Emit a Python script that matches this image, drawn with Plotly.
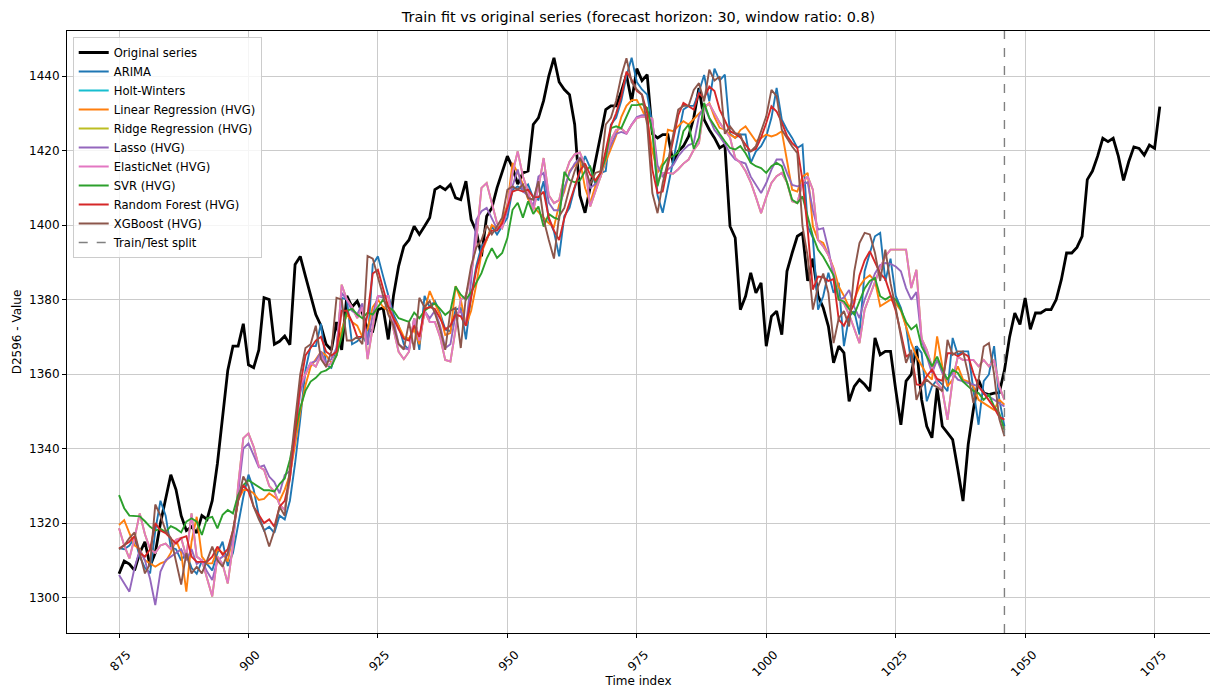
import plotly.graph_objects as go

# ---------------- data ----------------
orig_start, orig_end = 875, 1076
fit_start, fit_end = 875, 1046
split_index = 1046

original = [
    1306.4, 1309.8, 1309.0, 1307.3, 1312.0, 1315.0, 1308.5, 1312.0, 1320.0, 1327.0,
    1333.0, 1329.0, 1322.0, 1318.0, 1319.0, 1317.4, 1322.0, 1321.0, 1326.0, 1336.0,
    1348.0, 1361.0, 1367.5, 1367.5, 1373.5, 1362.5, 1361.7, 1366.5, 1380.5, 1380.0,
    1368.0, 1368.8, 1370.2, 1367.9, 1389.4, 1391.6, 1386.3, 1381.0, 1376.0, 1373.0,
    1368.0, 1366.5, 1374.0, 1366.5, 1381.0, 1378.0, 1379.6, 1376.4, 1372.0, 1371.5,
    1377.3, 1377.8, 1369.3, 1381.0, 1389.0, 1394.3, 1396.0, 1399.7, 1397.5, 1399.7,
    1402.0, 1409.5, 1410.4, 1409.5, 1410.9, 1407.3, 1406.8, 1411.8, 1401.5, 1398.3,
    1391.6, 1402.4, 1404.6, 1410.0, 1414.5, 1418.5, 1415.4, 1411.0, 1414.0, 1414.5,
    1427.0, 1428.8, 1433.4, 1440.0, 1444.9, 1438.4, 1436.4, 1435.0, 1427.0, 1408.0,
    1403.3, 1410.5, 1417.0, 1424.0, 1431.0, 1432.0, 1432.0, 1435.8, 1440.3, 1433.2,
    1442.0, 1438.8, 1440.4, 1424.5, 1423.4, 1424.3, 1424.3, 1416.7, 1419.8, 1421.2,
    1423.8, 1428.8, 1436.8, 1428.3, 1425.6, 1423.4, 1420.7, 1421.6, 1399.7, 1396.6,
    1377.3, 1380.9, 1387.2, 1381.8, 1384.5, 1367.5, 1375.5, 1376.9, 1370.6, 1387.6,
    1392.5, 1397.0, 1397.9, 1385.0, 1391.0, 1381.0, 1377.8, 1372.8, 1363.0, 1367.5,
    1365.7, 1352.7, 1356.7, 1358.5, 1357.2, 1355.4, 1369.7, 1365.2, 1366.1, 1366.1,
    1355.8, 1346.4, 1358.1, 1359.9, 1367.5, 1353.2, 1346.0, 1342.9, 1356.3, 1346.0,
    1344.2, 1342.4, 1334.4, 1325.9, 1341.1, 1350.5, 1358.5, 1354.9, 1354.5, 1354.9,
    1355.0, 1361.0, 1370.0, 1376.4, 1373.3, 1380.4, 1372.0, 1376.4, 1376.4, 1377.3,
    1377.3, 1380.0, 1385.4, 1392.5, 1392.5, 1394.0, 1397.0, 1412.2, 1414.5, 1418.5,
    1423.3, 1422.4, 1423.3, 1418.5, 1412.0, 1417.0, 1421.0, 1420.6, 1418.8, 1421.5,
    1420.6, 1431.8,
]

arima = [
    1313.3, 1313.0, 1314.0, 1316.0, 1311.0, 1308.0, 1306.5, 1318.0, 1326.0, 1322.0,
    1313.5, 1313.0, 1310.0, 1312.0, 1308.0, 1306.4, 1309.8, 1309.0, 1307.3, 1312.0,
    1315.0, 1308.5, 1312.0, 1320.0, 1327.0, 1333.0, 1329.0, 1322.0, 1318.0, 1319.0,
    1317.4, 1322.0, 1321.0, 1326.0, 1336.0, 1348.0, 1361.0, 1367.5, 1367.5, 1373.5,
    1362.5, 1361.7, 1366.5, 1380.5, 1380.0, 1368.0, 1368.8, 1370.2, 1367.9, 1389.4,
    1391.6, 1386.3, 1381.0, 1376.0, 1373.0, 1368.0, 1366.5, 1374.0, 1366.5, 1381.0,
    1378.0, 1379.6, 1376.4, 1372.0, 1371.5, 1377.3, 1377.8, 1369.3, 1381.0, 1389.0,
    1394.3, 1396.0, 1399.7, 1397.5, 1399.7, 1402.0, 1409.5, 1410.4, 1409.5, 1410.9,
    1407.3, 1406.8, 1411.8, 1401.5, 1398.3, 1391.6, 1402.4, 1404.6, 1410.0, 1414.5,
    1418.5, 1415.4, 1411.0, 1414.0, 1414.5, 1427.0, 1428.8, 1433.4, 1440.0, 1444.9,
    1438.4, 1436.4, 1435.0, 1427.0, 1408.0, 1403.3, 1410.5, 1417.0, 1424.0, 1431.0,
    1432.0, 1432.0, 1435.8, 1440.3, 1433.2, 1442.0, 1438.8, 1440.4, 1424.5, 1423.4,
    1424.3, 1424.3, 1416.7, 1419.8, 1421.2, 1423.8, 1428.8, 1436.8, 1428.3, 1425.6,
    1423.4, 1420.7, 1421.6, 1399.7, 1396.6, 1377.3, 1380.9, 1387.2, 1381.8, 1384.5,
    1367.5, 1375.5, 1376.9, 1370.6, 1387.6, 1392.5, 1397.0, 1397.9, 1385.0, 1391.0,
    1381.0, 1377.8, 1372.8, 1363.0, 1367.5, 1365.7, 1352.7, 1356.7, 1358.5, 1357.2,
    1355.4, 1369.7, 1365.2, 1366.1, 1366.1, 1355.8, 1346.4, 1358.1, 1359.9, 1367.5,
    1353.2, 1346.0,
]

linear_reg = [
    1319.5, 1320.8, 1317.3, 1314.0, 1313.0, 1310.0, 1309.2, 1308.3, 1309.2, 1309.7,
    1312.0, 1315.5, 1312.0, 1301.6, 1315.0, 1321.7, 1311.0, 1309.2, 1309.2, 1313.0,
    1312.0, 1309.7, 1317.0, 1326.2, 1328.9, 1328.9, 1328.0, 1326.2, 1326.5, 1328.0,
    1327.0, 1326.0, 1329.0, 1333.0, 1341.0, 1350.0, 1357.0, 1362.0, 1364.0, 1366.0,
    1365.0, 1363.0, 1365.0, 1372.0, 1376.0, 1374.0, 1373.0, 1370.0, 1372.0, 1378.0,
    1380.0, 1378.0, 1377.0, 1375.0, 1373.0, 1370.0, 1369.5, 1372.0, 1368.0, 1377.0,
    1382.3, 1379.0, 1376.0, 1370.5, 1371.0, 1383.6, 1380.0, 1373.0, 1377.0, 1384.0,
    1392.5, 1396.0, 1400.0, 1399.0, 1401.0, 1405.5, 1416.7, 1414.0, 1411.0, 1407.0,
    1405.0, 1403.5, 1402.0, 1400.5, 1399.5, 1405.5, 1409.0, 1414.5, 1416.0, 1417.5,
    1410.0, 1406.0, 1410.5, 1413.0, 1417.0, 1420.5, 1424.0, 1429.0, 1432.0, 1433.5,
    1433.6, 1431.0, 1428.0, 1420.0, 1414.0, 1416.7, 1425.6, 1425.2, 1426.5, 1427.9,
    1427.0, 1428.5, 1430.0, 1431.5, 1432.8, 1429.0, 1426.1, 1425.6, 1424.3, 1423.4,
    1425.5, 1426.5, 1424.5, 1422.5, 1423.4, 1424.3, 1423.8, 1424.3, 1425.2, 1417.1,
    1409.5, 1409.0, 1413.0, 1414.0, 1399.7, 1396.0, 1395.2, 1392.0, 1388.5, 1383.5,
    1381.0, 1378.0, 1380.0, 1383.5, 1385.5, 1386.5, 1385.0, 1378.2, 1379.0, 1380.0,
    1379.0, 1377.0, 1372.8, 1368.3, 1364.7, 1362.1, 1359.9, 1358.5, 1370.1, 1362.1,
    1356.7, 1358.5, 1362.1, 1358.5, 1358.0, 1356.7, 1353.1, 1352.2, 1351.3, 1350.4,
    1353.1, 1351.8,
]

lasso = [
    1306.1, 1304.0, 1301.6, 1308.0, 1312.8, 1310.0, 1305.0, 1298.0, 1307.0, 1310.0,
    1311.0, 1312.0, 1313.0, 1310.0, 1313.0, 1309.0, 1310.0, 1307.0, 1304.7, 1310.0,
    1311.0, 1311.5, 1316.0, 1328.0, 1340.0, 1341.4, 1338.0, 1335.0, 1335.5, 1332.5,
    1331.0, 1328.0, 1332.9, 1334.0, 1343.0, 1355.0, 1360.0, 1363.0, 1363.5, 1366.0,
    1363.0, 1364.0, 1367.0, 1381.8, 1380.0, 1377.0, 1376.0, 1379.0, 1368.0, 1376.0,
    1381.0, 1380.5, 1381.0, 1374.0, 1368.0, 1367.0, 1366.6, 1375.0, 1369.0, 1377.0,
    1375.0, 1377.0, 1373.0, 1367.0, 1368.0, 1376.0, 1377.0, 1373.0, 1385.0, 1401.4,
    1403.7, 1404.6, 1402.0, 1399.0, 1399.5, 1404.0, 1410.5, 1414.9, 1409.0, 1408.0,
    1405.0, 1413.0, 1414.0, 1406.0, 1404.0, 1404.0, 1410.0, 1414.0, 1416.5, 1418.0,
    1416.0, 1410.0, 1411.0, 1414.0, 1418.5, 1421.5, 1424.5, 1425.0, 1424.5, 1427.0,
    1429.0, 1429.5, 1429.5, 1428.0, 1416.0, 1413.1, 1414.9, 1416.0, 1418.5, 1420.2,
    1421.5, 1422.0, 1429.2, 1431.9, 1428.8, 1425.5, 1423.8, 1421.8, 1419.3, 1417.6,
    1417.0, 1416.5, 1413.0, 1410.8, 1408.6, 1411.3, 1414.9, 1417.6, 1417.6, 1414.0,
    1410.8, 1410.4, 1410.8, 1411.5, 1404.0, 1398.8, 1399.2, 1393.5, 1386.2, 1380.0,
    1380.5, 1382.6, 1378.0, 1375.0, 1380.0, 1383.5, 1387.0, 1389.3, 1389.8, 1389.6,
    1388.9, 1387.6, 1383.1, 1380.0, 1382.0, 1369.2, 1364.7, 1360.3, 1363.8, 1360.3,
    1358.5, 1360.3, 1358.5, 1358.0, 1357.6, 1357.2, 1356.7, 1354.9, 1354.0, 1353.1,
    1352.2, 1351.3,
]

elastic_net = [
    1318.6, 1314.0, 1310.5, 1316.0, 1322.6, 1317.0, 1313.0, 1312.0, 1314.0, 1314.5,
    1313.0, 1315.5, 1316.0, 1311.0, 1322.6, 1311.0, 1310.0, 1305.0, 1300.3, 1311.0,
    1309.0, 1303.8, 1314.0, 1330.0, 1342.8, 1344.1, 1340.5, 1335.2, 1334.3, 1330.0,
    1328.5, 1325.0, 1323.5, 1332.0, 1345.0, 1357.0, 1360.0, 1363.0, 1362.0, 1365.0,
    1362.0, 1363.0, 1365.0, 1384.0, 1380.0, 1378.0, 1375.0, 1378.0, 1364.0, 1373.0,
    1381.0, 1381.0, 1381.0, 1372.0, 1366.0, 1364.0, 1366.0, 1375.0, 1369.0, 1377.0,
    1374.0, 1374.0, 1370.0, 1363.8, 1363.4, 1372.0, 1380.0, 1381.0, 1387.0, 1396.0,
    1410.0, 1411.3, 1406.0, 1400.5, 1399.2, 1405.0, 1414.0, 1419.8, 1413.1, 1409.0,
    1404.0, 1410.0, 1418.0, 1408.0, 1405.9, 1406.7, 1413.0, 1417.0, 1419.0, 1419.5,
    1416.0, 1405.0, 1409.0, 1413.0, 1418.0, 1422.9, 1425.5, 1426.0, 1424.6, 1426.9,
    1428.7, 1429.1, 1429.1, 1428.5, 1411.7, 1414.0, 1414.0, 1413.8, 1415.0, 1416.5,
    1417.6, 1420.2, 1422.0, 1431.9, 1432.5, 1430.0, 1427.5, 1425.5, 1423.5, 1418.0,
    1416.7, 1414.5, 1411.5, 1407.5, 1403.2, 1407.5, 1411.3, 1413.1, 1414.0, 1411.5,
    1406.4, 1405.9, 1411.3, 1413.1, 1409.5, 1396.0, 1394.3, 1392.0, 1388.0, 1380.0,
    1379.0, 1376.0, 1372.0, 1368.3, 1377.3, 1381.0, 1384.5, 1388.5, 1391.6, 1393.4,
    1393.4, 1393.4, 1393.4, 1383.1, 1388.0, 1369.5, 1366.5, 1362.0, 1357.6, 1355.8,
    1347.7, 1358.5, 1364.7, 1363.8, 1363.8, 1363.8, 1362.1, 1363.8, 1362.1, 1363.8,
    1356.7, 1353.1,
]

# Ridge is drawn exactly beneath ElasticNet in the reference
ridge_reg = elastic_net

svr = [
    1327.5, 1324.0, 1322.0, 1322.0, 1321.8, 1320.5, 1319.0, 1318.0, 1318.5, 1317.6,
    1319.2, 1318.5, 1317.5, 1320.4, 1321.3, 1320.4, 1316.8, 1321.3, 1321.7, 1318.6,
    1322.2, 1323.5, 1322.6, 1327.5, 1330.2, 1331.5, 1330.6, 1329.7, 1328.8, 1328.8,
    1328.5, 1330.5, 1332.0, 1337.0, 1344.0, 1351.0, 1355.5, 1358.0, 1359.0, 1360.5,
    1361.0, 1362.0, 1365.0, 1370.0, 1377.0, 1377.5, 1376.0, 1375.0, 1376.5, 1376.0,
    1378.0, 1380.0, 1378.0, 1377.0, 1375.0, 1374.6, 1374.0, 1376.5, 1375.0, 1377.0,
    1378.0, 1379.0, 1377.5, 1375.9, 1377.0, 1383.5, 1381.3, 1380.0, 1382.0, 1384.4,
    1387.1, 1391.0, 1393.8, 1391.2, 1392.5, 1396.5, 1404.1, 1406.0, 1402.0, 1406.4,
    1403.0, 1405.0, 1399.6, 1403.0, 1402.0, 1401.5, 1414.3, 1412.1, 1411.5, 1412.0,
    1414.5, 1415.7, 1411.5, 1414.0, 1418.0, 1426.0, 1426.5, 1426.0, 1429.0, 1432.2,
    1432.2, 1432.5, 1431.4, 1425.0, 1410.4, 1416.0, 1418.0, 1418.5, 1419.5, 1425.2,
    1427.0, 1420.5, 1423.5, 1432.8, 1428.8, 1426.5, 1424.5, 1422.5, 1420.7, 1420.3,
    1421.2, 1419.3, 1416.7, 1415.8, 1415.3, 1414.0, 1415.8, 1416.7, 1415.8, 1411.5,
    1406.8, 1405.9, 1407.7, 1402.3, 1397.0, 1393.4, 1391.5, 1389.0, 1386.5, 1380.0,
    1379.5, 1377.5, 1376.0, 1379.5, 1383.0, 1385.0, 1385.8, 1380.9, 1380.0, 1380.9,
    1380.0, 1377.3, 1374.0, 1372.0, 1373.2, 1367.4, 1364.7, 1362.1, 1364.7, 1361.2,
    1358.5, 1361.2, 1360.3, 1358.0, 1356.7, 1355.5, 1354.9, 1353.1, 1354.5, 1351.3,
    1349.5, 1345.0,
]

random_forest = [
    1313.2, 1314.0, 1315.0, 1316.5, 1312.0, 1311.0, 1313.0, 1320.0, 1318.0, 1317.3,
    1316.0, 1314.5, 1316.0, 1316.5, 1311.0, 1309.6, 1309.6, 1309.6, 1311.0, 1313.7,
    1311.5, 1313.0, 1318.0, 1326.0, 1330.2, 1328.5, 1324.4, 1322.0, 1320.0, 1321.0,
    1319.0, 1324.4, 1326.0, 1332.0, 1345.0, 1357.0, 1365.0, 1367.0, 1369.0, 1370.0,
    1366.0, 1365.0, 1366.0, 1377.0, 1377.0, 1374.0, 1370.0, 1370.0, 1376.0, 1387.0,
    1388.0, 1383.0, 1378.0, 1375.0, 1372.0, 1369.5, 1369.0, 1373.0, 1370.0, 1377.5,
    1378.0, 1377.5, 1375.0, 1372.0, 1373.0, 1376.0, 1375.5, 1373.0, 1381.0, 1388.0,
    1393.0, 1396.5, 1398.5, 1398.5, 1400.5, 1404.5, 1409.0, 1409.5, 1409.0, 1409.5,
    1407.5, 1407.5, 1409.0, 1402.0, 1398.5, 1396.0, 1401.8, 1406.0, 1410.5, 1414.5,
    1416.5, 1413.5, 1412.0, 1414.0, 1420.0, 1426.5, 1430.0, 1434.5, 1441.2, 1439.0,
    1436.0, 1435.0, 1430.0, 1414.9, 1408.6, 1409.0, 1416.0, 1423.0, 1429.5, 1432.8,
    1432.0, 1431.0, 1435.4, 1434.0, 1437.2, 1436.0, 1431.0, 1428.0, 1425.2, 1424.5,
    1423.5, 1421.6, 1419.8, 1420.5, 1423.5, 1427.4, 1431.9, 1430.5, 1427.5, 1424.0,
    1422.0, 1420.7, 1412.0, 1398.8, 1382.7, 1386.2, 1386.0, 1385.0, 1385.5, 1374.6,
    1373.0, 1376.0, 1379.0, 1386.5, 1390.5, 1393.0, 1390.0, 1387.0, 1385.5, 1381.0,
    1377.0, 1371.0, 1364.7, 1365.6, 1357.2, 1357.0, 1359.5, 1361.2, 1358.7, 1358.2,
    1365.6, 1365.6, 1364.8, 1365.6, 1364.8, 1360.3, 1356.7, 1354.9, 1353.1, 1351.0,
    1348.5, 1347.8,
]

xgboost = [
    1313.0, 1314.0, 1316.0, 1317.5, 1312.0, 1306.5, 1309.0, 1325.0, 1322.0, 1318.0,
    1316.0, 1310.0, 1303.5, 1312.0, 1306.5, 1308.3, 1306.5, 1310.0, 1313.7, 1310.0,
    1308.3, 1312.0, 1318.0, 1326.0, 1332.5, 1330.0, 1324.4, 1321.0, 1318.2, 1313.7,
    1318.0, 1324.4, 1322.0, 1335.0, 1348.0, 1360.0, 1367.0, 1368.0, 1373.0, 1364.0,
    1362.0, 1366.0, 1380.5, 1380.0, 1369.0, 1369.0, 1370.0, 1368.0, 1391.7, 1391.0,
    1386.0, 1381.0, 1376.0, 1373.0, 1368.0, 1366.6, 1374.0, 1366.5, 1380.5, 1378.0,
    1379.6, 1376.4, 1372.0, 1366.5, 1377.0, 1377.8, 1367.0, 1381.0, 1389.0, 1394.0,
    1396.0, 1400.0, 1397.5, 1399.7, 1402.0, 1409.5, 1410.4, 1409.5, 1410.9, 1407.3,
    1406.8, 1411.8, 1401.5, 1396.0, 1391.0, 1402.4, 1404.6, 1410.0, 1414.5, 1418.0,
    1415.4, 1411.0, 1414.0, 1414.5, 1427.0, 1428.8, 1433.4, 1440.0, 1444.8, 1438.4,
    1436.4, 1435.0, 1427.0, 1408.6, 1403.2, 1411.3, 1417.0, 1424.0, 1431.0, 1432.0,
    1432.0, 1436.3, 1438.1, 1433.2, 1441.7, 1438.8, 1439.9, 1424.5, 1426.5, 1424.7,
    1424.3, 1420.2, 1419.8, 1421.2, 1425.2, 1429.2, 1436.3, 1434.6, 1425.6, 1423.4,
    1421.1, 1419.3, 1399.7, 1391.6, 1377.3, 1383.5, 1387.0, 1381.8, 1368.3, 1375.0,
    1376.9, 1372.8, 1387.6, 1395.2, 1397.9, 1397.5, 1392.5, 1385.0, 1393.4, 1384.4,
    1377.8, 1370.1, 1363.0, 1366.5, 1353.1, 1356.7, 1358.5, 1357.2, 1356.5, 1355.4,
    1369.2, 1365.2, 1366.1, 1366.1, 1360.0, 1352.2, 1358.5, 1367.4, 1368.3, 1360.0,
    1348.0, 1343.3,
]

x_ticks = [875, 900, 925, 950, 975, 1000, 1025, 1050, 1075]
y_ticks = [1300, 1320, 1340, 1360, 1380, 1400, 1420, 1440]

# ---------------- figure ----------------
FONT = "DejaVu Sans"
x_orig = list(range(orig_start, orig_end + 1))
x_fit = list(range(fit_start, fit_end + 1))

fig = go.Figure()
fig.add_trace(go.Scatter(x=x_orig, y=original, mode="lines", name="Original series",
                         line=dict(color="black", width=2.8)))

models = [
    ("ARIMA", arima, "#1f77b4"),
    ("Holt-Winters", None, "#17becf"),
    ("Linear Regression (HVG)", linear_reg, "#ff7f0e"),
    ("Ridge Regression (HVG)", ridge_reg, "#bcbd22"),
    ("Lasso (HVG)", lasso, "#9467bd"),
    ("ElasticNet (HVG)", elastic_net, "#e377c2"),
    ("SVR (HVG)", svr, "#2ca02c"),
    ("Random Forest (HVG)", random_forest, "#d62728"),
    ("XGBoost (HVG)", xgboost, "#8c564b"),
]
for name, vals, color in models:
    if vals is None:
        fig.add_trace(go.Scatter(x=[None], y=[None], mode="lines", name=name,
                                 line=dict(color=color, width=2)))
    else:
        fig.add_trace(go.Scatter(x=x_fit, y=vals, mode="lines", name=name,
                                 line=dict(color=color, width=1.9)))

fig.add_trace(go.Scatter(x=[None], y=[None], mode="lines", name="Train/Test split",
                         line=dict(color="#808080", width=1.4, dash="dash")))
fig.add_vline(x=split_index, line=dict(color="#808080", width=1.4, dash="dash"))

axis_common = dict(
    showline=True, linecolor="black", linewidth=1, mirror=True,
    ticks="outside", ticklen=4, tickcolor="black",
    showgrid=True, gridcolor="#cbcbcb", gridwidth=1,
    zeroline=False, tickfont=dict(family=FONT, size=12, color="black"),
)

fig.update_layout(
    width=1210, height=688,
    margin=dict(l=67, r=0, t=31, b=55),
    paper_bgcolor="white", plot_bgcolor="white",
    font=dict(family=FONT, size=12, color="black"),
    title=dict(text="Train fit vs original series (forecast horizon: 30, window ratio: 0.8)",
               x=0.5, xref="paper", xanchor="center",
               y=1 - 17 / 688, yref="container", yanchor="middle",
               font=dict(family=FONT, size=14.4, color="black")),
    xaxis=dict(range=[864.95, 1085.7], tickvals=x_ticks, tickangle=-45,
               ticklabelshift=8, ticklabelstandoff=5,
               title=dict(text="Time index", font=dict(family=FONT, size=12), standoff=2),
               automargin=False, **axis_common),
    yaxis=dict(range=[1290.5, 1452.1], tickvals=y_ticks,
               title=dict(text="D2596 - Value", font=dict(family=FONT, size=12), standoff=4),
               automargin=False, **axis_common),
    legend=dict(x=0.005, y=0.99, xanchor="left", yanchor="top",
                bgcolor="rgba(255,255,255,0.8)", bordercolor="#cccccc", borderwidth=1,
                font=dict(family=FONT, size=11.6, color="black"), tracegroupgap=0),
    showlegend=True,
)

fig.write_html("out.html", config={"displayModeBar": False})

# remove the browser's default page margin so the figure sits at the window origin
with open("out.html", "r", encoding="utf-8") as f:
    html = f.read()
html = html.replace("<head>", "<head><style>html,body{margin:0;padding:0;overflow:hidden;}</style>", 1)
with open("out.html", "w", encoding="utf-8") as f:
    f.write(html)
